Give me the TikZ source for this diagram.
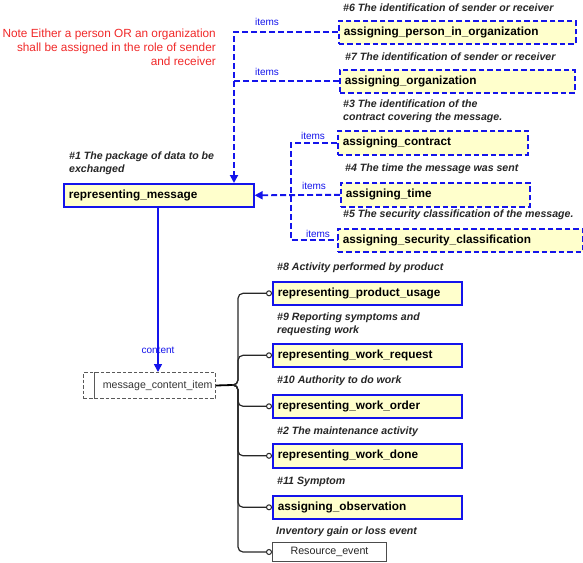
\documentclass[tikz,border=0pt]{standalone}
\usepackage{fontspec}
\setmainfont{Liberation Sans}
\usetikzlibrary{arrows.meta}
\definecolor{boxfill}{RGB}{255,255,204}
\definecolor{boxblue}{RGB}{20,20,235}
\definecolor{notered}{RGB}{240,40,40}
\definecolor{treegray}{RGB}{40,40,40}
\tikzset{
  ent/.style={draw=boxblue, fill=boxfill, line width=1.6pt, anchor=north west,
    inner xsep=5pt, inner ysep=0pt, align=left,
    font=\fontsize{11.8}{13}\selectfont\bfseries},
  dent/.style={ent, dash pattern=on 5.5pt off 3pt, line width=1.6pt},
  captxt/.style={anchor=west, align=left, inner sep=0pt,
    font=\fontsize{10.6}{13}\selectfont\bfseries\itshape, text=black!85},
  lbl/.style={inner sep=0pt, text=boxblue, font=\fontsize{10}{12}\selectfont},
  dconn/.style={draw=boxblue, line width=1.9pt, dash pattern=on 6pt off 3pt},
  arrtip/.style={-{Triangle[length=8pt,width=8pt]}},
  treeline/.style={draw=treegray, line width=1.2pt, rounded corners=5pt,
    -{Circle[open,length=6pt,width=6pt,line width=1pt]}},
}
\begin{document}
\begin{tikzpicture}[x=1pt,y=-1pt]
\useasboundingbox (0,0) rectangle (583,562);

% note
\node[anchor=east, align=right, inner sep=0pt, text=notered,
  font=\fontsize{11.8}{14}\selectfont] (note) at (216,47)
  {Note Either a person OR an organization\\shall be assigned in the role of sender\\and receiver};

% top entities
\node[dent, minimum height=23pt, text width=227pt] (pio) at (338,20) {assigning\_person\_in\_organization};
\node[dent, minimum height=23pt, text width=225pt] (org) at (339,69) {assigning\_organization};
\node[dent, minimum height=24pt, text width=180pt] (con) at (337,130) {assigning\_contract};
\node[dent, minimum height=24pt, text width=179pt] (tim) at (340,182) {assigning\_time};
\node[dent, minimum height=23pt, text width=235pt] (sec) at (337,228) {assigning\_security\_classification};
\node[ent, minimum height=23pt, text width=180pt] (rm) at (63,183) {representing\_message};

% captions top
\node[captxt] (c6) at (343,8) {\#6 The identification of sender or receiver};
\node[captxt] (c7) at (345,57) {\#7 The identification of sender or receiver};
\node[captxt] (c3) at (343,111.5) {\#3 The identification of the\\contract covering the message.};
\node[captxt] (c4) at (345,169) {\#4 The time the message was sent};
\node[captxt] (c5) at (343,215) {\#5 The security classification of the message.};
\node[captxt] (c1) at (69,163.5) {\#1 The package of data to be\\exchanged};

% hubs
\coordinate (hubA) at (234,0);
\coordinate (hubB) at (291,0);

% dashed connectors
\draw[dconn, arrtip] (pio.west) -| (rm.north -| hubA);
\draw[dconn] (org.west) -- (org.west -| hubA);
\draw[dconn, arrtip] (tim.west) -- (rm.east);
\draw[dconn] (con.west) -| (sec.west -| hubB) -- (sec.west);

\node[lbl] (i1) at (267,22) {items};
\node[lbl] (i2) at (267,72) {items};
\node[lbl] (i3) at (313,135.5) {items};
\node[lbl] (i4) at (314,186) {items};
\node[lbl] (i5) at (318,234) {items};

% message content item
\node[draw=black!65, dash pattern=on 3.5pt off 2pt, line width=1pt, anchor=north west,
  minimum height=26pt, text width=126pt, inner xsep=3pt, inner ysep=0pt, align=right,
  font=\fontsize{10.6}{12}\selectfont, text=black!80] (mci) at (83,372) {message\_content\_item};
\draw[draw=black!65, line width=1pt] ([xshift=11pt]mci.north west) -- ([xshift=11pt]mci.south west);

\coordinate (colC) at (158,0);
\draw[draw=boxblue, line width=1.5pt, arrtip] (rm.south -| colC) -- (mci.north -| colC);
\node[lbl] (ct) at (158,350) {content};

% bottom entities
\node[ent, minimum height=23pt, text width=179pt] (pu) at (272,281) {representing\_product\_usage};
\node[ent, minimum height=23pt, text width=179pt] (wr) at (272,343) {representing\_work\_request};
\node[ent, minimum height=23pt, text width=179pt] (wo) at (272,394) {representing\_work\_order};
\node[ent, minimum height=24pt, text width=179pt] (wd) at (272,443) {representing\_work\_done};
\node[ent, minimum height=23pt, text width=179pt] (ob) at (272,495) {assigning\_observation};
\node[draw=black!70, line width=1pt, fill=white, anchor=north west, minimum width=114pt,
  minimum height=19pt, inner sep=0pt, font=\fontsize{10.7}{12}\selectfont, text=black!85]
  (re) at (272,542) {Resource\_event};

\node[captxt] (c8) at (277,268) {\#8 Activity performed by product};
\node[captxt] (c9) at (277,324) {\#9 Reporting symptoms and\\requesting work};
\node[captxt] (c10) at (277,381) {\#10 Authority to do work};
\node[captxt] (c2) at (277,432) {\#2 The maintenance activity};
\node[captxt] (c11) at (277,482) {\#11 Symptom};
\node[captxt] (cinv) at (276,532) {Inventory gain or loss event};

% tree
\coordinate (jn) at (232,385);
\coordinate (trunk) at (238,0);
\draw[draw=black, line width=1.8pt] (mci.east) -- (jn);
\foreach \t in {pu,wr,wo,wd,ob,re}{
  \draw[treeline] (jn) -| (\t.west -| trunk) -- (\t.west);
}
\end{tikzpicture}
\end{document}
